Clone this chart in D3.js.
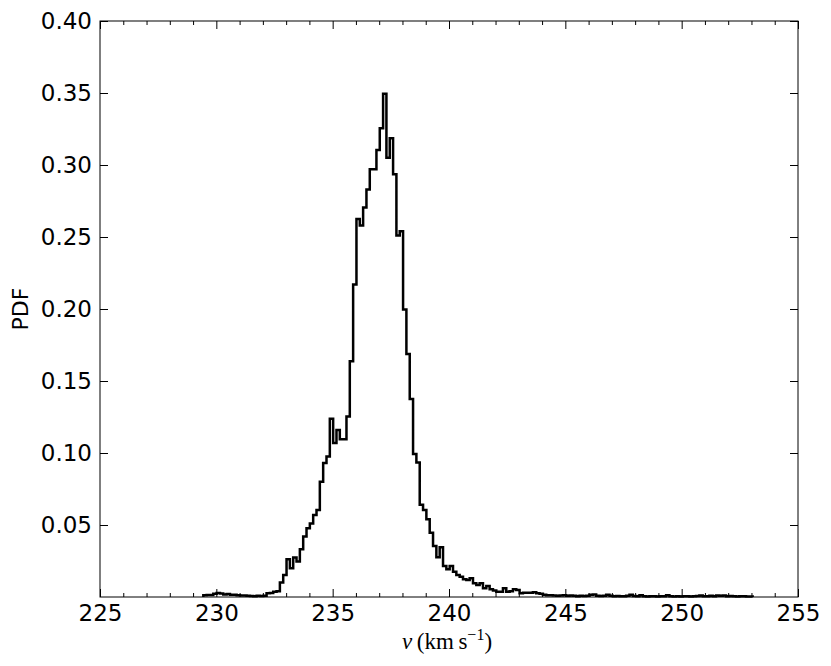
<!DOCTYPE html>
<html>
<head>
<meta charset="utf-8">
<script src="https://cdn.jsdelivr.net/npm/d3@7"></script>
<style>
  html, body { margin: 0; padding: 0; background: #fff; }
  svg { display: block; }
  .tick text { font-family: "DejaVu Sans", sans-serif; font-size: 23px; fill: #000; }
</style>
</head>
<body>
<svg id="chart" width="831" height="666"></svg>
<script>
// ---- data ----
const binStart = 229.44;     // left edge of first bin (km/s)
const binWidth = 0.1431;     // bin width (km/s)
const pdfValues = [
  0.0012,0.0014,0.0014,0.0022,0.0028,0.0024,0.0018,0.0020,0.0016,0.0015,
  0.0012,0.0011,0.0010,0.0008,0.0007,0.0006,0.0008,0.0007,0.0009,0.0026,
  0.0028,0.0037,0.0040,0.0100,0.0153,0.0262,0.0200,0.0274,0.0246,0.0332,
  0.0420,0.0478,0.0510,0.0570,0.0605,0.0800,0.0930,0.0976,0.1238,0.1070,
  0.1160,0.1095,0.1095,0.1254,0.1637,0.2170,0.2625,0.2580,0.2704,0.2830,
  0.2970,0.2970,0.3105,0.3255,0.3494,0.3050,0.3185,0.2936,0.2510,0.2540,
  0.1997,0.1688,0.1375,0.0993,0.0934,0.0640,0.0605,0.0540,0.0447,0.0355,
  0.0276,0.0346,0.0216,0.0193,0.0216,0.0176,0.0153,0.0141,0.0123,0.0118,
  0.0130,0.0095,0.0083,0.0095,0.0060,0.0077,0.0053,0.0045,0.0037,0.0037,
  0.0060,0.0037,0.0040,0.0053,0.0048,0.0026,0.0030,0.0030,0.0030,0.0033,
  0.0026,0.0022,0.0016,0.0012,0.0012,0.0010,0.0008,0.0010,0.0012,0.0009,
  0.0010,0.0008,0.0006,0.0009,0.0007,0.0009,0.0016,0.0018,0.0009,0.0007,
  0.0008,0.0016,0.0009,0.0006,0.0007,0.0005,0.0006,0.0008,0.0015,0.0007,
  0.0006,0.0012,0.0005,0.0004,0.0006,0.0005,0.0004,0.0006,0.0005,0.0012,
  0.0006,0.0004,0.0005,0.0003,0.0005,0.0006,0.0004,0.0005,0.0007,0.0011,
  0.0006,0.0005,0.0008,0.0006,0.0010,0.0009,0.0011,0.0006,0.0007,0.0005,
  0.0004,0.0006,0.0005,0.0003,0.0004
];
const xMajorTicks = [225, 230, 235, 240, 245, 250, 255];
const xMinorTicks = [226,227,228,229,231,232,233,234,236,237,238,239,241,242,243,244,246,247,248,249,251,252,253,254];
const yTicks = [0.05, 0.10, 0.15, 0.20, 0.25, 0.30, 0.35, 0.40];
const xDomain = [225, 255];
const yDomain = [0, 0.40];
const yLabel = "PDF";

// ---- layout ----
const mLeft = 100, mRight = 798, mTop = 21, mBottom = 597;
const svg = d3.select("#chart");

const x = d3.scaleLinear().domain(xDomain).range([mLeft, mRight]);
const y = d3.scaleLinear().domain(yDomain).range([mBottom, mTop]);

// histogram step outline
const pts = [];
pdfValues.forEach((v, i) => {
  const e0 = binStart + i * binWidth, e1 = binStart + (i + 1) * binWidth;
  if (i === 0) pts.push([e0, 0]);
  pts.push([e0, v]);
  pts.push([e1, v]);
});
pts.push([binStart + pdfValues.length * binWidth, 0]);

svg.append("path")
  .datum(pts)
  .attr("fill", "none")
  .attr("stroke", "#000")
  .attr("stroke-width", 2.5)
  .attr("stroke-linejoin", "miter")
  .attr("d", d3.line().x(d => x(d[0])).y(d => y(d[1])));

// axes (ticks pointing inward)
function cleanDomain(g) { g.select(".domain").remove(); g.selectAll("line").attr("stroke", "#000"); }

svg.append("g").attr("transform", `translate(0,${mBottom})`)
  .call(d3.axisBottom(x).tickValues(xMajorTicks).tickFormat(d3.format("d"))
    .tickSizeInner(-8).tickSizeOuter(0).tickPadding(8))
  .call(cleanDomain);
svg.append("g").attr("transform", `translate(0,${mBottom})`)
  .call(d3.axisBottom(x).tickValues(xMinorTicks).tickFormat("")
    .tickSizeInner(-4).tickSizeOuter(0))
  .call(cleanDomain);
svg.append("g").attr("transform", `translate(0,${mTop})`)
  .call(d3.axisTop(x).tickValues(xMajorTicks).tickFormat("")
    .tickSizeInner(-8).tickSizeOuter(0))
  .call(cleanDomain);
svg.append("g").attr("transform", `translate(0,${mTop})`)
  .call(d3.axisTop(x).tickValues(xMinorTicks).tickFormat("")
    .tickSizeInner(-4).tickSizeOuter(0))
  .call(cleanDomain);
svg.append("g").attr("transform", `translate(${mLeft},0)`)
  .call(d3.axisLeft(y).tickValues(yTicks).tickFormat(d3.format(".2f"))
    .tickSizeInner(-8).tickSizeOuter(0).tickPadding(8))
  .call(cleanDomain);
svg.append("g").attr("transform", `translate(${mRight},0)`)
  .call(d3.axisRight(y).tickValues(yTicks).tickFormat("")
    .tickSizeInner(-8).tickSizeOuter(0))
  .call(cleanDomain);

// frame
svg.append("rect")
  .attr("x", mLeft).attr("y", mTop)
  .attr("width", mRight - mLeft).attr("height", mBottom - mTop)
  .attr("fill", "none").attr("stroke", "#000").attr("stroke-width", 1);

// y label
svg.append("text")
  .attr("transform", `translate(28,${(mTop + mBottom) / 2}) rotate(-90)`)
  .attr("text-anchor", "middle")
  .attr("font-family", "DejaVu Sans, sans-serif")
  .attr("font-size", 22)
  .text(yLabel);

// x label: v (km s^-1)
const xl = svg.append("text")
  .attr("x", 447)
  .attr("y", 649)
  .attr("text-anchor", "middle")
  .attr("font-family", "Liberation Serif, DejaVu Serif, serif")
  .attr("font-size", 23);
xl.append("tspan").attr("font-style", "italic").text("v");
xl.append("tspan").text("\u2009(km\u2009s");
xl.append("tspan").attr("font-size", 16).attr("dy", -9).text("\u22121");
xl.append("tspan").attr("dy", 9).text(")");
</script>
</body>
</html>
